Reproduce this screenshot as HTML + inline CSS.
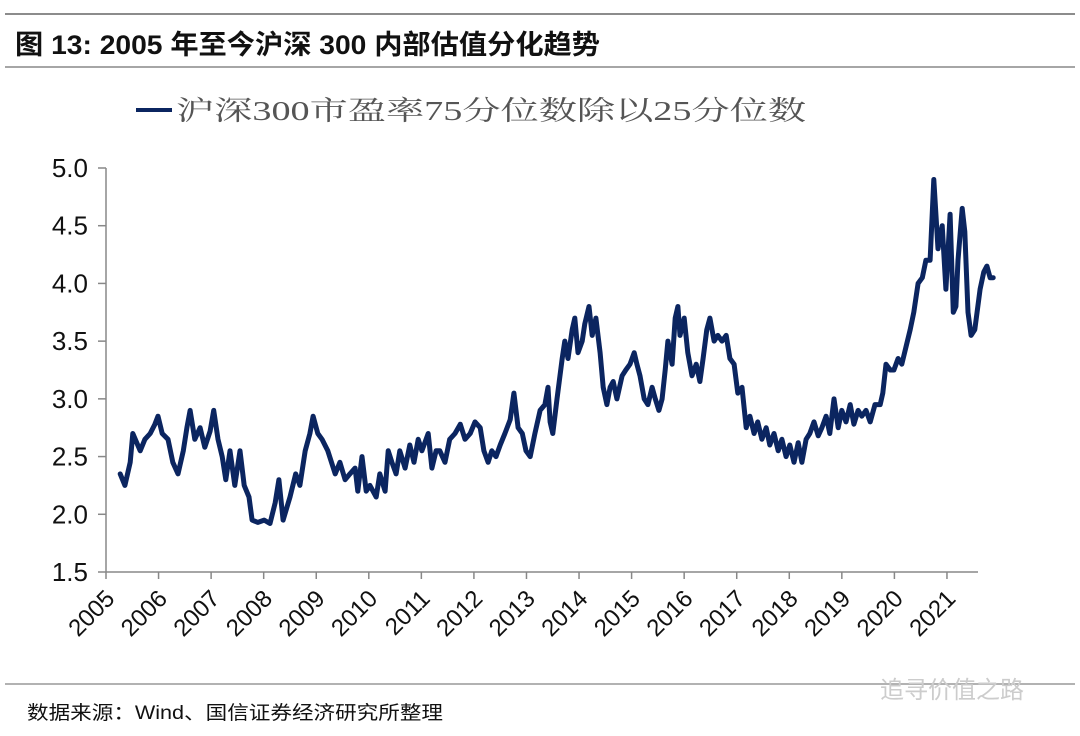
<!DOCTYPE html>
<html><head><meta charset="utf-8"><style>
body{margin:0;background:#fff;width:1080px;height:736px;overflow:hidden}
svg{display:block}
</style></head><body>
<svg id="c" width="1080" height="736" xmlns="http://www.w3.org/2000/svg">
<line x1="5" y1="14" x2="1075" y2="14" stroke="#666" stroke-width="1.5"/>
<text x="15" y="54" textLength="585" lengthAdjust="spacingAndGlyphs" font-family="'Liberation Sans','Noto Sans CJK SC',sans-serif" font-weight="bold" font-size="27" fill="#111">图 13:  2005 年至今沪深 300 内部估值分化趋势</text>
<line x1="5" y1="67" x2="1075" y2="67" stroke="#888" stroke-width="1.5"/>
<g>
<line x1="136" y1="110" x2="172" y2="110" stroke="#0b2560" stroke-width="4"/>
<text x="176" y="120" textLength="630" lengthAdjust="spacingAndGlyphs" font-family="'Liberation Serif','Noto Serif CJK SC',serif" font-size="27" fill="#555">沪深300市盈率75分位数除以25分位数</text>
</g>
<g id="axes"></g>
<path id="series" fill="none" stroke="#0b2560" stroke-width="5" stroke-linejoin="round" stroke-linecap="round"/>
<line x1="5" y1="684" x2="1075" y2="684" stroke="#999" stroke-width="1.5"/>
<text x="27" y="719" textLength="416" lengthAdjust="spacingAndGlyphs" font-family="'Liberation Sans','Noto Sans CJK SC',sans-serif" font-size="19" fill="#111">数据来源：Wind、国信证券经济研究所整理</text>
<text x="880" y="698" font-family="'Liberation Sans','Noto Sans CJK SC',sans-serif" font-size="24" fill="#ccc">追寻价值之路</text>
</svg>
<script>
const yTicks=[1.5,2.0,2.5,3.0,3.5,4.0,4.5,5.0];
const xYears=[2005,2006,2007,2008,2009,2010,2011,2012,2013,2014,2015,2016,2017,2018,2019,2020,2021];
const dates=[2005.27,2005.36,2005.46,2005.51,2005.65,2005.74,2005.84,2005.93,2005.99,2006.07,2006.18,2006.27,2006.37,2006.47,2006.54,2006.60,2006.69,2006.79,2006.88,2006.98,2007.05,2007.13,2007.21,2007.28,2007.36,2007.45,2007.55,2007.63,2007.72,2007.78,2007.89,2008.01,2008.12,2008.22,2008.29,2008.37,2008.50,2008.61,2008.69,2008.79,2008.88,2008.94,2009.03,2009.11,2009.22,2009.36,2009.45,2009.55,2009.64,2009.74,2009.79,2009.87,2009.95,2010.02,2010.14,2010.21,2010.31,2010.37,2010.44,2010.52,2010.59,2010.69,2010.78,2010.86,2010.94,2011.01,2011.13,2011.20,2011.28,2011.35,2011.45,2011.54,2011.64,2011.74,2011.83,2011.93,2012.02,2012.12,2012.19,2012.27,2012.34,2012.42,2012.50,2012.59,2012.69,2012.76,2012.84,2012.92,2012.99,2013.07,2013.16,2013.26,2013.35,2013.41,2013.45,2013.50,2013.58,2013.68,2013.73,2013.79,2013.87,2013.92,2013.98,2014.06,2014.11,2014.19,2014.25,2014.32,2014.40,2014.46,2014.53,2014.59,2014.65,2014.72,2014.82,2014.89,2014.97,2015.05,2015.10,2015.16,2015.24,2015.31,2015.39,2015.45,2015.52,2015.58,2015.64,2015.69,2015.77,2015.83,2015.88,2015.92,2016.00,2016.07,2016.15,2016.23,2016.30,2016.36,2016.43,2016.49,2016.57,2016.64,2016.72,2016.80,2016.87,2016.95,2017.02,2017.10,2017.18,2017.25,2017.33,2017.40,2017.48,2017.56,2017.63,2017.71,2017.79,2017.86,2017.94,2018.01,2018.09,2018.17,2018.24,2018.32,2018.39,2018.47,2018.55,2018.62,2018.70,2018.77,2018.85,2018.93,2019.00,2019.08,2019.16,2019.23,2019.31,2019.38,2019.46,2019.54,2019.63,2019.73,2019.78,2019.84,2019.92,2019.99,2020.07,2020.14,2020.22,2020.30,2020.37,2020.45,2020.53,2020.60,2020.68,2020.75,2020.83,2020.91,2020.98,2021.06,2021.12,2021.17,2021.21,2021.29,2021.34,2021.40,2021.46,2021.53,2021.63,2021.70,2021.76,2021.82,2021.88];
const values=[2.35,2.25,2.45,2.7,2.55,2.65,2.7,2.78,2.85,2.7,2.65,2.45,2.35,2.55,2.75,2.9,2.65,2.75,2.58,2.72,2.9,2.65,2.5,2.3,2.55,2.25,2.55,2.25,2.15,1.95,1.93,1.95,1.92,2.1,2.3,1.95,2.15,2.35,2.25,2.55,2.7,2.85,2.7,2.65,2.55,2.35,2.45,2.3,2.35,2.4,2.2,2.5,2.2,2.25,2.15,2.35,2.2,2.55,2.45,2.35,2.55,2.4,2.6,2.45,2.65,2.55,2.7,2.4,2.55,2.55,2.45,2.65,2.7,2.78,2.65,2.7,2.8,2.75,2.55,2.45,2.55,2.5,2.6,2.7,2.82,3.05,2.75,2.7,2.55,2.5,2.7,2.9,2.95,3.1,2.8,2.7,3.0,3.35,3.5,3.35,3.6,3.7,3.4,3.5,3.65,3.8,3.55,3.7,3.4,3.1,2.95,3.1,3.15,3.0,3.2,3.25,3.3,3.4,3.3,3.2,3.0,2.95,3.1,3.0,2.9,3.0,3.25,3.5,3.3,3.7,3.8,3.55,3.7,3.4,3.2,3.3,3.15,3.35,3.6,3.7,3.5,3.55,3.5,3.55,3.35,3.3,3.05,3.1,2.75,2.85,2.7,2.8,2.65,2.75,2.6,2.7,2.55,2.65,2.5,2.6,2.45,2.62,2.45,2.65,2.7,2.8,2.68,2.75,2.85,2.7,3.0,2.75,2.9,2.8,2.95,2.78,2.9,2.85,2.9,2.8,2.95,2.95,3.05,3.3,3.25,3.25,3.35,3.3,3.45,3.6,3.75,4.0,4.05,4.2,4.2,4.9,4.3,4.5,3.95,4.6,3.75,3.8,4.2,4.65,4.45,3.75,3.55,3.6,3.95,4.1,4.15,4.05,4.05];
const X0=106,XS=52.56,Y0=572,YS=115.43;
const xs=t=>X0+(t-2005)*XS;
const ys=v=>Y0-(v-1.5)*YS;
const NS='http://www.w3.org/2000/svg';
const ax=document.getElementById('axes');
function mk(tag,attrs){const e=document.createElementNS(NS,tag);for(const k in attrs)e.setAttribute(k,attrs[k]);ax.appendChild(e);return e;}
let e=mk('line',{x1:X0,y1:168,x2:X0,y2:Y0,stroke:'#888','stroke-width':1.5});


e=mk('line',{x1:X0,y1:Y0,x2:978,y2:Y0,stroke:'#888','stroke-width':1.5});


yTicks.forEach(v=>{
 let t=mk('line',{x1:X0-8,y1:ys(v),x2:X0,y2:ys(v),stroke:'#888','stroke-width':1.5});
 
 
 let l=mk('text',{x:88,y:ys(v)+9,'text-anchor':'end','font-family':"'Liberation Sans',sans-serif",'font-size':26,fill:'#111'});
 l.textContent=v.toFixed(1);
 
 
});
xYears.forEach(y=>{
 const x=xs(y);
 let t=mk('line',{x1:x,y1:Y0,x2:x,y2:Y0+7,stroke:'#888','stroke-width':1.5});
 
 
 let l=mk('text',{x:x+10,y:Y0+28,'text-anchor':'end','font-family':"'Liberation Sans',sans-serif",'font-size':24,fill:'#111',transform:`rotate(-45 ${x+10} ${Y0+28})`});
 l.textContent=y;
 
 
});
document.getElementById('series').setAttribute('d',dates.map((d,i)=>(i?'L':'M')+xs(d).toFixed(1)+' '+ys(values[i]).toFixed(1)).join(' '));
</script>
</body></html>
